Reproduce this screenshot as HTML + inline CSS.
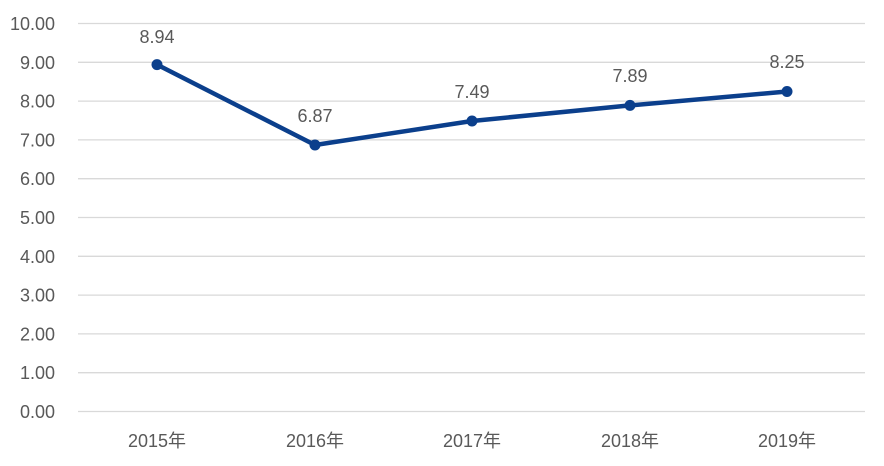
<!DOCTYPE html>
<html><head><meta charset="utf-8"><style>
html,body{margin:0;padding:0;background:#fff;}
svg{display:block;}
text{font-family:"Liberation Sans","Noto Sans CJK SC",sans-serif;fill:#595959;font-size:18px;}
</style></head><body>
<svg width="884" height="466" viewBox="0 0 884 466">
<g stroke="#d9d9d9" stroke-width="1.3">
<line x1="78" x2="865" y1="23.5" y2="23.5"/>
<line x1="78" x2="865" y1="62.3" y2="62.3"/>
<line x1="78" x2="865" y1="101.1" y2="101.1"/>
<line x1="78" x2="865" y1="139.9" y2="139.9"/>
<line x1="78" x2="865" y1="178.7" y2="178.7"/>
<line x1="78" x2="865" y1="217.5" y2="217.5"/>
<line x1="78" x2="865" y1="256.3" y2="256.3"/>
<line x1="78" x2="865" y1="295.1" y2="295.1"/>
<line x1="78" x2="865" y1="333.9" y2="333.9"/>
<line x1="78" x2="865" y1="372.7" y2="372.7"/>
<line x1="78" x2="865" y1="411.5" y2="411.5"/>
</g>
<g text-anchor="end">
<text x="55" y="30">10.00</text>
<text x="55" y="68.8">9.00</text>
<text x="55" y="107.6">8.00</text>
<text x="55" y="146.4">7.00</text>
<text x="55" y="185.2">6.00</text>
<text x="55" y="224">5.00</text>
<text x="55" y="262.8">4.00</text>
<text x="55" y="301.6">3.00</text>
<text x="55" y="340.4">2.00</text>
<text x="55" y="379.2">1.00</text>
<text x="55" y="418">0.00</text>
</g>
<g text-anchor="middle">
<text x="157" y="447">2015年</text>
<text x="315" y="447">2016年</text>
<text x="472" y="447">2017年</text>
<text x="630" y="447">2018年</text>
<text x="787" y="447">2019年</text>
<text x="157" y="43">8.94</text>
<text x="315" y="122">6.87</text>
<text x="472" y="98">7.49</text>
<text x="630" y="82">7.89</text>
<text x="787" y="68">8.25</text>
</g>
<polyline points="157,64.6 315,145.0 472,121.0 630,105.4 787,91.5" fill="none" stroke="#0b3f8c" stroke-width="4.5" stroke-linejoin="round"/>
<g fill="#0b3f8c">
<circle cx="157" cy="64.6" r="5.5"/>
<circle cx="315" cy="145.0" r="5.5"/>
<circle cx="472" cy="121.0" r="5.5"/>
<circle cx="630" cy="105.4" r="5.5"/>
<circle cx="787" cy="91.5" r="5.5"/>
</g>
</svg>
</body></html>
